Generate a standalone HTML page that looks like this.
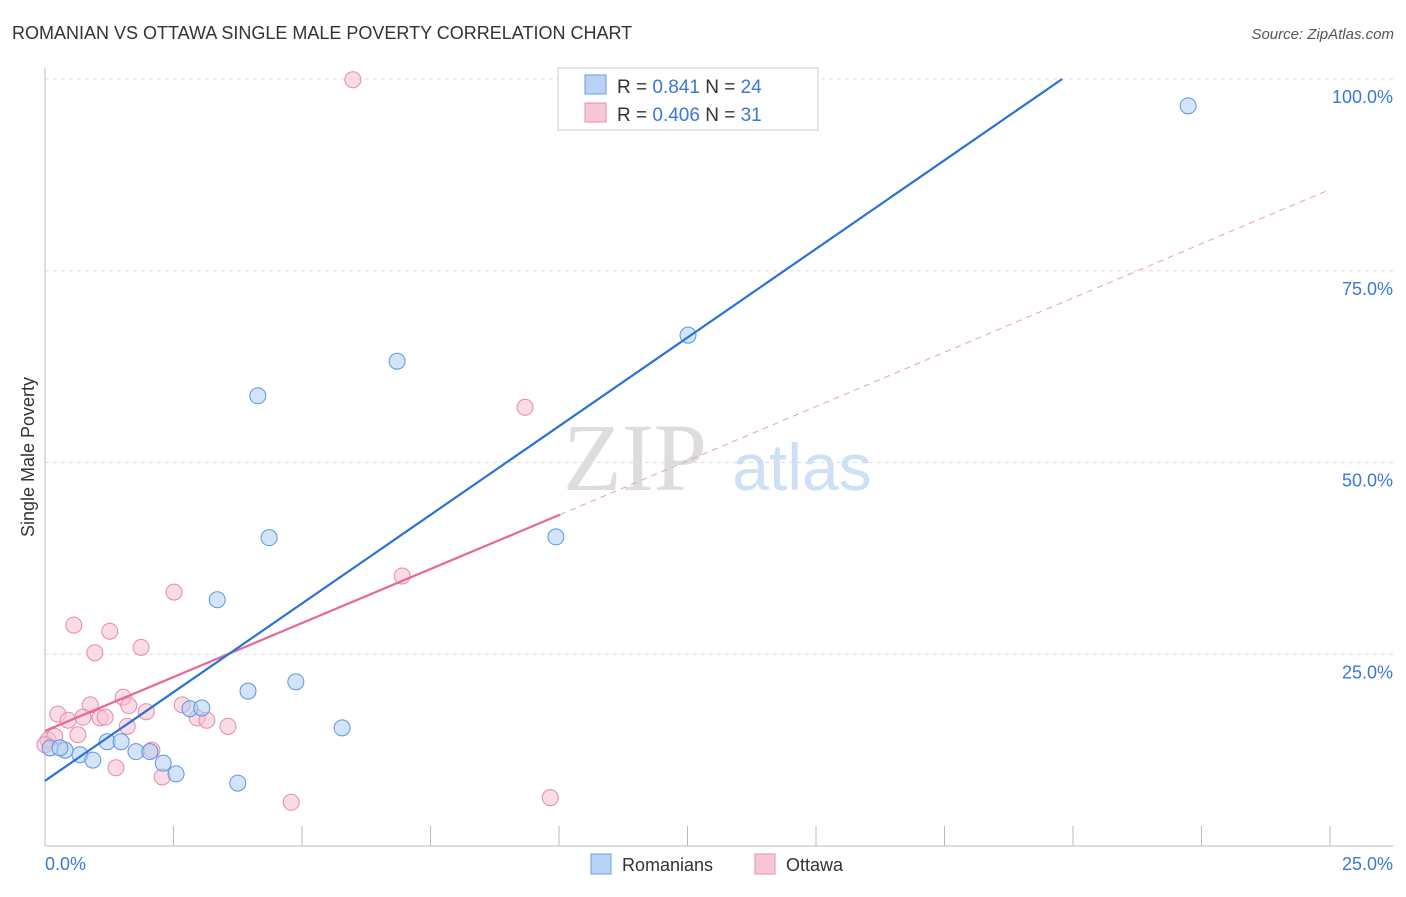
<!DOCTYPE html>
<html><head><meta charset="utf-8"><style>
body{margin:0;background:#fff;font-family:"Liberation Sans",sans-serif;}
</style></head><body>
<svg id="chart" width="1406" height="892" xmlns="http://www.w3.org/2000/svg" font-family="Liberation Sans, sans-serif">
<text x="12" y="39" font-size="18" fill="#333">ROMANIAN VS OTTAWA SINGLE MALE POVERTY CORRELATION CHART</text>
<text x="1394" y="39" font-size="15" fill="#555" text-anchor="end" font-style="italic">Source: ZipAtlas.com</text>
<text x="635" y="490" font-size="96" fill="#ddd" text-anchor="middle" font-family="Liberation Serif, serif">ZIP</text>
<text x="802" y="490" font-size="66" fill="#cfe0f5" text-anchor="middle">atlas</text>
<g id="grid"></g>
<g id="axes"></g>
<g id="marks"></g>
<text transform="translate(34,457) rotate(-90)" font-size="18" fill="#333" text-anchor="middle">Single Male Poverty</text>
<g>
<rect x="558" y="68" width="260" height="62" fill="#fff" stroke="#ccc"/>
<rect x="585" y="75" width="21" height="19" fill="#b8d2f5" stroke="#6b9ee0"/>
<rect x="585" y="103" width="21" height="19" fill="#f8c6d6" stroke="#e88fb0"/>
<text x="617" y="93" font-size="19" fill="#333">R = <tspan fill="#3a78d8"> 0.841</tspan>   N = <tspan fill="#3a78d8">24</tspan></text>
<text x="617" y="121" font-size="19" fill="#333">R = <tspan fill="#3a78d8">0.406</tspan>   N = <tspan fill="#3a78d8"> 31</tspan></text>
</g>
<g>
<rect x="591" y="854" width="20" height="20" fill="#b8d2f5" stroke="#6b9ee0"/>
<text x="622" y="871" font-size="18" fill="#333">Romanians</text>
<rect x="755" y="854" width="20" height="20" fill="#f8c6d6" stroke="#e88fb0"/>
<text x="786" y="871" font-size="18" fill="#333">Ottawa</text>
</g>
</svg>
<script>
const blueX=[0.10,0.39,0.68,0.93,1.21,1.48,1.77,2.04,2.30,2.55,2.82,3.05,3.35,3.75,3.95,4.14,4.36,4.88,5.78,6.85,9.94,12.51,22.24,0.29];
const blueY=[12.8,12.5,11.9,11.2,13.6,13.6,12.3,12.3,10.8,9.4,17.9,18.0,32.1,8.2,20.2,58.7,40.2,21.4,15.4,63.2,40.3,66.6,96.5,12.8];
const pinkX=[5.99,9.34,6.95,2.51,0.56,1.26,1.87,0.97,0.25,0.45,0.88,0.74,1.07,1.17,1.52,1.63,1.60,1.97,2.67,2.96,3.15,3.56,2.08,1.38,2.28,4.79,9.83,0.64,0.06,0.19,0.0];
const pinkY=[99.9,57.2,35.2,33.1,28.8,28.0,25.9,25.2,17.2,16.4,18.4,16.8,16.7,16.8,19.4,18.3,15.6,17.5,18.4,16.7,16.4,15.6,12.5,10.2,9.0,5.7,6.3,14.5,13.8,14.3,13.2];
const blueLine=[[0,8.5],[19.79,100]];
const pinkLine=[[0,15.0],[10.02,43.2]];
const pinkDash=[[10.02,43.2],[25,85.6]];
const yTicks=[25,50,75,100];
const yTickLabels=["25.0%","50.0%","75.0%","100.0%"];
const xTicks=[0,2.5,5,7.5,10,12.5,15,17.5,20,22.5,25];
const NS="http://www.w3.org/2000/svg";
const sx=v=>45+v/25*1285, sy=v=>846-v/100*767;
function mk(t,a,p){const e=document.createElementNS(NS,t);for(const k in a)e.setAttribute(k,a[k]);p.appendChild(e);return e;}
const grid=document.getElementById('grid'),axes=document.getElementById('axes'),marks=document.getElementById('marks');
yTicks.forEach((v,i)=>{
 const l=mk('line',{x1:45,x2:1393,y1:sy(v),y2:sy(v),stroke:'#ddd','stroke-dasharray':'4,4'},grid);
 
 
 const t=mk('text',{x:1393,y:sy(v)+24,'font-size':18,fill:'#3a78d8','text-anchor':'end'},axes);
 t.textContent=yTickLabels[i];
 
 
});
const ya=mk('line',{x1:45,x2:45,y1:68,y2:846,stroke:'#bbb'},axes);


const xa=mk('line',{x1:45,x2:1393,y1:846,y2:846,stroke:'#bbb'},axes);


xTicks.forEach(v=>{const t=mk('line',{x1:sx(v),x2:sx(v),y1:826,y2:846,stroke:'#bbb'},axes);
 
 });
[["0.0%",45,'start'],["25.0%",1393,'end']].forEach(a=>{const t=mk('text',{x:a[1],y:870,'font-size':18,fill:'#3a78d8','text-anchor':a[2]},axes);t.textContent=a[0];
 
 });
function pts(X,Y,fill,stroke,name){X.forEach((x,i)=>{const c=mk('circle',{cx:sx(x),cy:sy(Y[i]),r:8,fill:fill,'fill-opacity':0.55,stroke:stroke,'stroke-width':1},marks);
 
 });}
pts(pinkX,pinkY,'#f8c0d2','#e58aab','ottawa-point');
pts(blueX,blueY,'#b0cdf3','#5e95dd','romanian-point');
function ln(L,col,w,dash,name){const l=mk('line',{x1:sx(L[0][0]),y1:sy(L[0][1]),x2:sx(L[1][0]),y2:sy(L[1][1]),stroke:col,'stroke-width':w},marks);
 if(dash)l.setAttribute('stroke-dasharray',dash);
 
 }
ln(pinkDash,'#e8a0b8',1,'6,5','ottawa-trend-extension');
ln(pinkLine,'#e8659a',2.2,null,'ottawa-trend-line');
ln(blueLine,'#2a72d8',2.2,null,'romanian-trend-line');
</script>
</body></html>
